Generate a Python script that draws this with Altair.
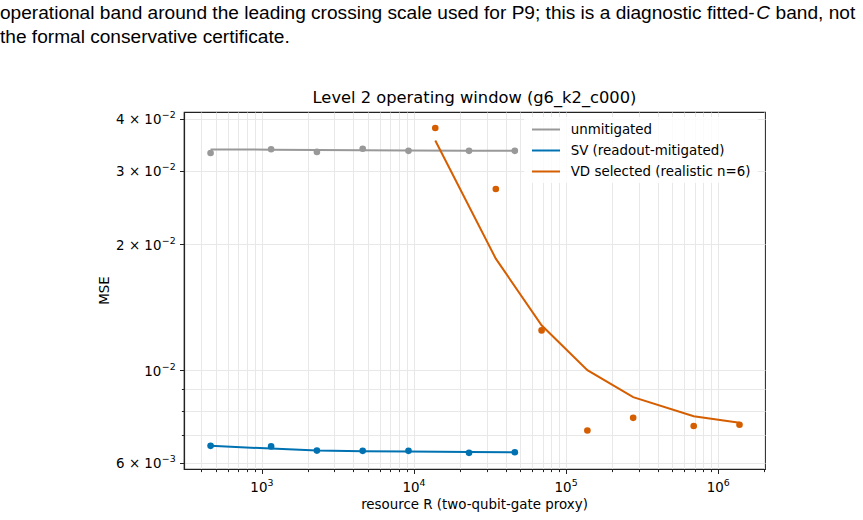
import altair as alt
import pandas as pd

# Resource values (two-qubit-gate proxy) for each protocol
R_low = [460, 1150, 2300, 4600, 9200, 23000, 46000]
R_vd = [13800, 34500, 69000, 138000, 276000, 690000, 1380000]

# Measured MSE (markers) and fitted-C curve (lines)
unmit_pts = [0.0331, 0.0338, 0.0333, 0.0339, 0.0335, 0.0335, 0.0335]
unmit_fit = [0.03377, 0.03372, 0.03367, 0.03362, 0.03358, 0.03354, 0.03352]
sv_pts = [0.00659, 0.00657, 0.00642, 0.00641, 0.00641, 0.00634, 0.00636]
sv_fit = [0.00659, 0.00649, 0.00642, 0.00640, 0.00639, 0.00637, 0.00636]
vd_pts = [0.0380, 0.02715, 0.01245, 0.00717, 0.00769, 0.00735, 0.00740]
vd_fit = [0.03548, 0.01849, 0.01281, 0.01000, 0.00862, 0.00776, 0.00748]

series_names = ["unmitigated", "SV (readout-mitigated)", "VD selected (realistic n=6)"]
series_colors = ["#999999", "#0072B2", "#D55E00"]

# Tick labels written as mantissa/base plus a raised exponent
x_major = [1000, 10000, 100000, 1000000]
x_major_exp = ["3", "4", "5", "6"]
y_minor = [0.007, 0.008, 0.009]
y_major = [0.006, 0.01, 0.02, 0.03, 0.04]
y_major_base = ["6 × 10", "10", "2 × 10", "3 × 10", "4 × 10"]
y_major_exp = ["−3", "−2", "−2", "−2", "−2"]

# Caption text above the figure; the symbol C is set in italics
para_line1 = ["operational band around the leading crossing scale used for P9; this is a diagnostic fitted-",
              "C", "band, not"]
para_line2 = "the formal conservative certificate."
title_text = "Level 2 operating window (g6_k2_c000)"
x_title = "resource R (two-qubit-gate proxy)"
y_title = "MSE"

rows = []
for name, xs, pts, fit in [
    (series_names[0], R_low, unmit_pts, unmit_fit),
    (series_names[1], R_low, sv_pts, sv_fit),
    (series_names[2], R_vd, vd_pts, vd_fit),
]:
    for r, p, f in zip(xs, pts, fit):
        rows.append({"series": name, "R": r, "point": p, "fit": f})
df = pd.DataFrame(rows)

W, H = 581, 357
X_DOM = [307.6, 2.03e6]
Y_DOM = [0.00580, 0.04150]

x_ticks = [m * 10 ** k for k in range(2, 7) for m in range(1, 10)
           if X_DOM[0] <= m * 10 ** k <= X_DOM[1]]
y_ticks = sorted(y_minor + y_major)


def major_test(values):
    return "indexof([" + ",".join(str(v) for v in values) + "], datum.value) >= 0"


FONT = "DejaVu Sans"
FS = 13.4      # tick labels, legend, axis titles
FS_EXP = 9.4   # exponents

x_axis = alt.Axis(
    values=x_ticks, labels=False, title=None,
    tickSize={"condition": {"test": major_test(x_major), "value": 4.5}, "value": 2.6},
)
y_axis = alt.Axis(
    values=y_ticks, labels=False, title=None,
    tickSize={"condition": {"test": major_test(y_major), "value": 4.5}, "value": 2.6},
)

x_scale = alt.Scale(type="log", domain=X_DOM, nice=False)
y_scale = alt.Scale(type="log", domain=Y_DOM, nice=False)
color_scale = alt.Scale(domain=series_names, range=series_colors)

base = alt.Chart(df)
fit_lines = base.mark_line(strokeWidth=2).encode(
    x=alt.X("R:Q", scale=x_scale, axis=x_axis),
    y=alt.Y("fit:Q", scale=y_scale, axis=y_axis),
    color=alt.Color("series:N", scale=color_scale, legend=None),
    detail="series:N",
)
markers = base.mark_circle(size=44, opacity=1).encode(
    x=alt.X("R:Q", scale=x_scale),
    y=alt.Y("point:Q", scale=y_scale),
    color=alt.Color("series:N", scale=color_scale, legend=None),
)

# Tick labels placed through the same scales as the data
xlab_df = pd.DataFrame({"v": x_major, "exp": x_major_exp})
x_lab_base = alt.Chart(xlab_df).mark_text(
    text="10", align="center", baseline="alphabetic", font=FONT, fontSize=FS,
    color="black", dx=-3,
).encode(x=alt.X("v:Q", scale=x_scale), y=alt.value(H + 22.5))
x_lab_exp = alt.Chart(xlab_df).mark_text(
    align="left", baseline="alphabetic", font=FONT, fontSize=FS_EXP,
    color="black", dx=5.6,
).encode(x=alt.X("v:Q", scale=x_scale), y=alt.value(H + 16.5), text="exp:N")

ylab_df = pd.DataFrame({"v": y_major, "base": y_major_base, "exp": y_major_exp})
y_lab_base = alt.Chart(ylab_df).mark_text(
    align="right", baseline="middle", font=FONT, fontSize=FS, color="black", dy=1.5,
).encode(x=alt.value(-22.6), y=alt.Y("v:Q", scale=y_scale), text="base:N")
y_lab_exp = alt.Chart(ylab_df).mark_text(
    align="right", baseline="middle", font=FONT, fontSize=FS_EXP, color="black", dy=-3.5,
).encode(x=alt.value(-8.3), y=alt.Y("v:Q", scale=y_scale), text="exp:N")

one = alt.Data(values=[{}])

x_title_mark = alt.Chart(one).mark_text(
    text=x_title, align="center", baseline="alphabetic", font=FONT, fontSize=FS, color="black"
).encode(x=alt.value(W / 2), y=alt.value(397.3))
y_title_mark = alt.Chart(one).mark_text(
    text=y_title, align="center", baseline="middle", angle=270, font=FONT, fontSize=FS,
    color="black"
).encode(x=alt.value(-79), y=alt.value(H / 2))

# Legend drawn inside the upper-right corner of the plot
legend_layers = [
    alt.Chart(one).mark_rect(fill="white", opacity=0.8, cornerRadius=3).encode(
        x=alt.value(340), x2=alt.value(574), y=alt.value(5), y2=alt.value(71)
    )
]
for i, (lab, col) in enumerate(zip(series_names, series_colors)):
    yy = 17.5 + 21 * i
    legend_layers.append(
        alt.Chart(one).mark_rule(color=col, strokeWidth=2).encode(
            x=alt.value(348), x2=alt.value(376), y=alt.value(yy)
        )
    )
    legend_layers.append(
        alt.Chart(one).mark_text(
            text=lab, align="left", baseline="middle", font=FONT, fontSize=FS, color="black"
        ).encode(x=alt.value(386.7), y=alt.value(yy))
    )

title_mark = alt.Chart(one).mark_text(
    text=title_text, align="center", baseline="middle", font=FONT, fontSize=16.3, color="black"
).encode(x=alt.value(W / 2), y=alt.value(-14))

PFONT, PFS = "Liberation Sans", 19.1
para_layers = [
    alt.Chart(one).mark_text(
        text=para_line1[0], align="left", baseline="alphabetic", font=PFONT,
        fontSize=PFS, color="black"
    ).encode(x=alt.value(-184), y=alt.value(-93)),
    alt.Chart(one).mark_text(
        text=para_line1[1], align="left", baseline="alphabetic", font=PFONT,
        fontSize=PFS, fontStyle="italic", color="black"
    ).encode(x=alt.value(572.3), y=alt.value(-93)),
    alt.Chart(one).mark_text(
        text=para_line1[2], align="left", baseline="alphabetic", font=PFONT,
        fontSize=PFS, color="black"
    ).encode(x=alt.value(591.6), y=alt.value(-93)),
    alt.Chart(one).mark_text(
        text=para_line2, align="left", baseline="alphabetic", font=PFONT,
        fontSize=PFS, color="black"
    ).encode(x=alt.value(-184), y=alt.value(-69)),
]

chart = alt.layer(
    fit_lines, markers, x_lab_base, x_lab_exp, y_lab_base, y_lab_exp,
    x_title_mark, y_title_mark, *legend_layers, title_mark, *para_layers
).properties(
    width=W, height=H,
    padding={"left": 184, "top": 112, "right": 98, "bottom": 51},
    autosize=alt.AutoSizeParams(type="none"),
    background="white",
).configure_view(
    stroke="#222222", strokeWidth=1.2
).configure_axis(
    domainColor="#222222", domainWidth=1.2, tickColor="#222222", tickWidth=1,
    gridColor="#e8e8e8", gridWidth=1,
)

chart.save("out.html", embed_options={"renderer": "svg", "actions": False})
